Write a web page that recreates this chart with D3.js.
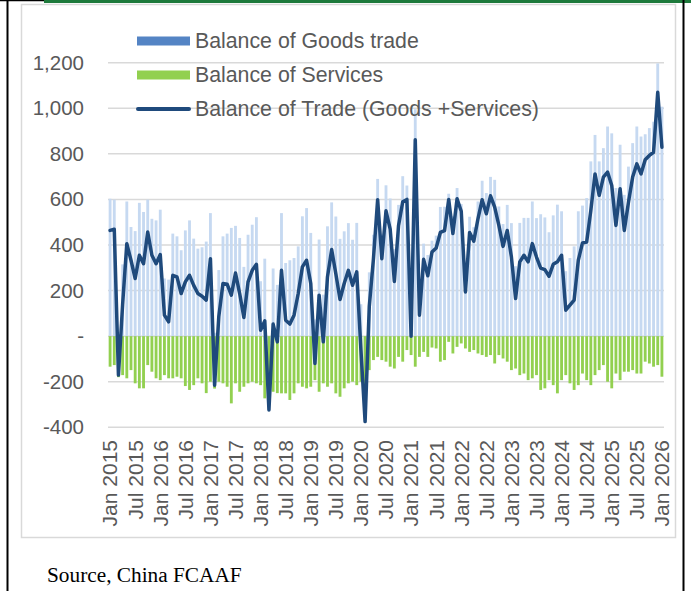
<!DOCTYPE html>
<html>
<head>
<meta charset="utf-8">
<script src="https://cdn.jsdelivr.net/npm/d3@7/dist/d3.min.js"></script>
<style>
    body { margin: 0; background: #fff; }
    svg { display: block; }
</style>
</head>
<body>
<svg id="chart"></svg>
<script>
let W = 691;
let H = 591;

// monthly values, Jan 2015 .. Jan 2026
let goods = [
    603, 599, 10, 315, 591, 479, 461, 585, 545, 599, 515, 508,
    555, 253, 248, 450, 438, 377, 464, 508, 428, 384, 390, 415,
    540, 15, 290, 438, 450, 475, 484, 431, 304, 445, 489, 522,
    241, 340, -30, 297, 225, 540, 321, 333, 343, 394, 526, 562,
    453, 73, 424, 182, 482, 587, 525, 427, 460, 496, 423, 497,
    140, -160, 280, 445, 690, 445, 662, 604, 382, 576, 702, 661,
    83, 996, 183, 406, 356, 419, 441, 567, 568, 625, 526, 650,
    580, 248, 524, 478, 591, 682, 628, 699, 686, 569, 492, 576,
    496, 307, 497, 519, 519, 591, 518, 535, 521, 456, 530, 577,
    548, 285, 343, 394, 548, 573, 606, 767, 883, 767, 825, 920,
    890, 650, 840, 620, 744, 847, 920, 876, 886, 913, 941, 1197,
    1007];

let services = [
    -134, -127, -180, -171, -185, -149, -207, -229, -229, -127, -156, -185,
    -193, -171, -185, -185, -178, -185, -219, -236, -215, -185, -207, -250,
    -200, -230, -200, -207, -222, -295, -207, -244, -222, -207, -200, -207,
    -215, -273, -290, -244, -250, -251, -251, -280, -251, -207, -222, -229,
    -222, -193, -244, -207, -222, -207, -251, -266, -229, -207, -200, -215,
    -200, -215, -149, -105, -91, -105, -112, -134, -142, -91, -112, -61,
    -83, -134, -91, -69, -91, -50, -54, -112, -105, -25, -76, -47,
    -32, -54, -69, -61, -76, -83, -91, -83, -120, -83, -98, -112,
    -149, -142, -171, -164, -193, -185, -171, -236, -229, -193, -215, -251,
    -193, -171, -207, -236, -215, -164, -193, -215, -171, -149, -127, -200,
    -229, -164, -193, -156, -156, -149, -164, -164, -112, -120, -134, -127,
    -178];

let trade = [
    464, 469, -171, 140, 406, 333, 253, 355, 318, 457, 355, 318,
    358, 92, 63, 267, 260, 187, 238, 267, 223, 187, 175, 158,
    340, -215, 85, 231, 228, 180, 277, 187, 82, 238, 289, 315,
    26, 67, -324, 53, -25, 289, 70, 53, 92, 187, 304, 333,
    231, -120, 180, -25, 260, 380, 274, 161, 231, 289, 223, 282,
    -60, -375, 130, 340, 599, 340, 550, 470, 240, 485, 590, 600,
    0, 862, 92, 337, 265, 369, 387, 455, 463, 600, 450, 603,
    548, 194, 455, 417, 515, 599, 537, 616, 566, 486, 394, 464,
    347, 165, 326, 355, 326, 406, 347, 299, 292, 263, 315, 326,
    355, 114, 136, 158, 333, 409, 413, 552, 712, 618, 698, 720,
    661, 486, 647, 464, 588, 698, 756, 712, 774, 793, 807, 1070,
    829];

let xTickLabels = [
    "Jan 2015", "Jul 2015", "Jan 2016", "Jul 2016", "Jan 2017", "Jul 2017",
    "Jan 2018", "Jul 2018", "Jan 2019", "Jul 2019", "Jan 2020", "Jul 2020",
    "Jan 2021", "Jul 2021", "Jan 2022", "Jul 2022", "Jan 2023", "Jul 2023",
    "Jan 2024", "Jul 2024", "Jan 2025", "Jul 2025", "Jan 2026"];

let yTicks = [-400, -200, 0, 200, 400, 600, 800, 1000, 1200];
let yTickLabels = ["-400", "-200", "-", "200", "400", "600", "800", "1,000", "1,200"];

let seriesNames = ["Balance of Goods trade", "Balance of Services", "Balance of Trade (Goods +Services)"];

let colors = {
    goods: "#c6d9f1",
    goodsKey: "#5484c4",
    services: "#92d050",
    trade: "#1f4a7c",
    grid: "#d9d9d9",
    text: "#595959"
};

let font = "'Liberation Sans', Arial, sans-serif";

let svg = d3.select("#chart").attr("width", W).attr("height", H);

// page frame
svg.append("rect").attr("x", 0).attr("y", 0).attr("width", W).attr("height", H).attr("fill", "#fff");
svg.append("line").attr("x1", 0).attr("x2", 46).attr("y1", 0.5).attr("y2", 0.5)
    .attr("stroke", "#000").attr("stroke-width", 1.5);
svg.append("line").attr("x1", 44).attr("x2", W).attr("y1", 1.5).attr("y2", 1.5)
    .attr("stroke", "#1e7a3c").attr("stroke-width", 3);
svg.append("line").attr("x1", 7.5).attr("x2", 7.5).attr("y1", 0).attr("y2", H)
    .attr("stroke", "#000").attr("stroke-width", 2);
svg.append("line").attr("x1", 683.5).attr("x2", 683.5).attr("y1", 0).attr("y2", H)
    .attr("stroke", "#000").attr("stroke-width", 2);

// chart box
svg.append("rect").attr("x", 21.5).attr("y", 4.5).attr("width", 654).attr("height", 533)
    .attr("fill", "#fff").attr("stroke", "#d9d9d9").attr("stroke-width", 1.5);

let x = d3.scaleBand()
    .domain(d3.range(goods.length))
    .range([108, 664])
    .paddingInner(0.32)
    .paddingOuter(0.16);

let y = d3.scaleLinear().domain([-400, 1200]).range([427.3, 62.7]);

// gridlines
svg.append("g").selectAll("line").data(yTicks).enter().append("line")
    .attr("x1", 108).attr("x2", 664)
    .attr("y1", function (d) { return y(d); })
    .attr("y2", function (d) { return y(d); })
    .attr("stroke", colors.grid).attr("stroke-width", 1.5);

// y axis labels
let yAxis = svg.append("g").attr("transform", "translate(84,0)")
    .call(d3.axisLeft(y).tickValues(yTicks).tickSize(0).tickPadding(0)
        .tickFormat(function (d, i) { return yTickLabels[i]; }));
yAxis.select(".domain").remove();
yAxis.selectAll("text").attr("font-family", font).attr("font-size", "20.5px").attr("fill", colors.text);

// bars
svg.append("g").selectAll("rect").data(goods).enter().append("rect")
    .attr("x", function (d, i) { return x(i); })
    .attr("width", x.bandwidth())
    .attr("y", function (d) { return y(Math.max(0, d)); })
    .attr("height", function (d) { return Math.abs(y(d) - y(0)); })
    .attr("fill", colors.goods);

svg.append("g").selectAll("rect").data(services).enter().append("rect")
    .attr("x", function (d, i) { return x(i); })
    .attr("width", x.bandwidth())
    .attr("y", function (d) { return y(Math.max(0, d)); })
    .attr("height", function (d) { return Math.abs(y(d) - y(0)); })
    .attr("fill", colors.services);

// total trade line
let line = d3.line()
    .x(function (d, i) { return x(i) + x.bandwidth() / 2; })
    .y(function (d) { return y(d); });

svg.append("path").datum(trade)
    .attr("d", line)
    .attr("fill", "none")
    .attr("stroke", colors.trade)
    .attr("stroke-width", 3.5)
    .attr("stroke-linejoin", "round")
    .attr("stroke-linecap", "round");

// x axis labels
let xAxis = svg.append("g").attr("transform", "translate(0,440)")
    .call(d3.axisBottom(x)
        .tickValues(d3.range(0, goods.length, 6))
        .tickSize(0)
        .tickFormat(function (d) { return xTickLabels[d / 6]; }));
xAxis.select(".domain").remove();
xAxis.selectAll("text")
    .attr("font-family", font).attr("font-size", "21px").attr("fill", colors.text)
    .attr("text-anchor", "end")
    .attr("dy", "0.35em")
    .attr("transform", "rotate(-90)")
    .attr("x", 0).attr("y", 0);

// legend
let legend = svg.append("g");
let keyY = [41, 75, 109];

legend.append("rect").attr("x", 137).attr("y", keyY[0] - 4.5).attr("width", 53).attr("height", 9)
    .attr("fill", colors.goodsKey);
legend.append("rect").attr("x", 137).attr("y", keyY[1] - 4.5).attr("width", 53).attr("height", 9)
    .attr("fill", colors.services);
legend.append("line").attr("x1", 138).attr("x2", 189).attr("y1", keyY[2]).attr("y2", keyY[2])
    .attr("stroke", colors.trade).attr("stroke-width", 4).attr("stroke-linecap", "round");

legend.selectAll("text").data(seriesNames).enter().append("text")
    .attr("x", 195)
    .attr("y", function (d, i) { return keyY[i]; })
    .attr("dy", "0.35em")
    .attr("font-family", font).attr("font-size", "21.3px").attr("fill", colors.text)
    .text(function (d) { return d; });

// source note
svg.append("text").attr("x", 47).attr("y", 582)
    .attr("font-family", "'Liberation Serif', 'Times New Roman', serif")
    .attr("font-size", "21.3px").attr("fill", "#000")
    .text("Source, China FCAAF");
</script>
</body>
</html>
